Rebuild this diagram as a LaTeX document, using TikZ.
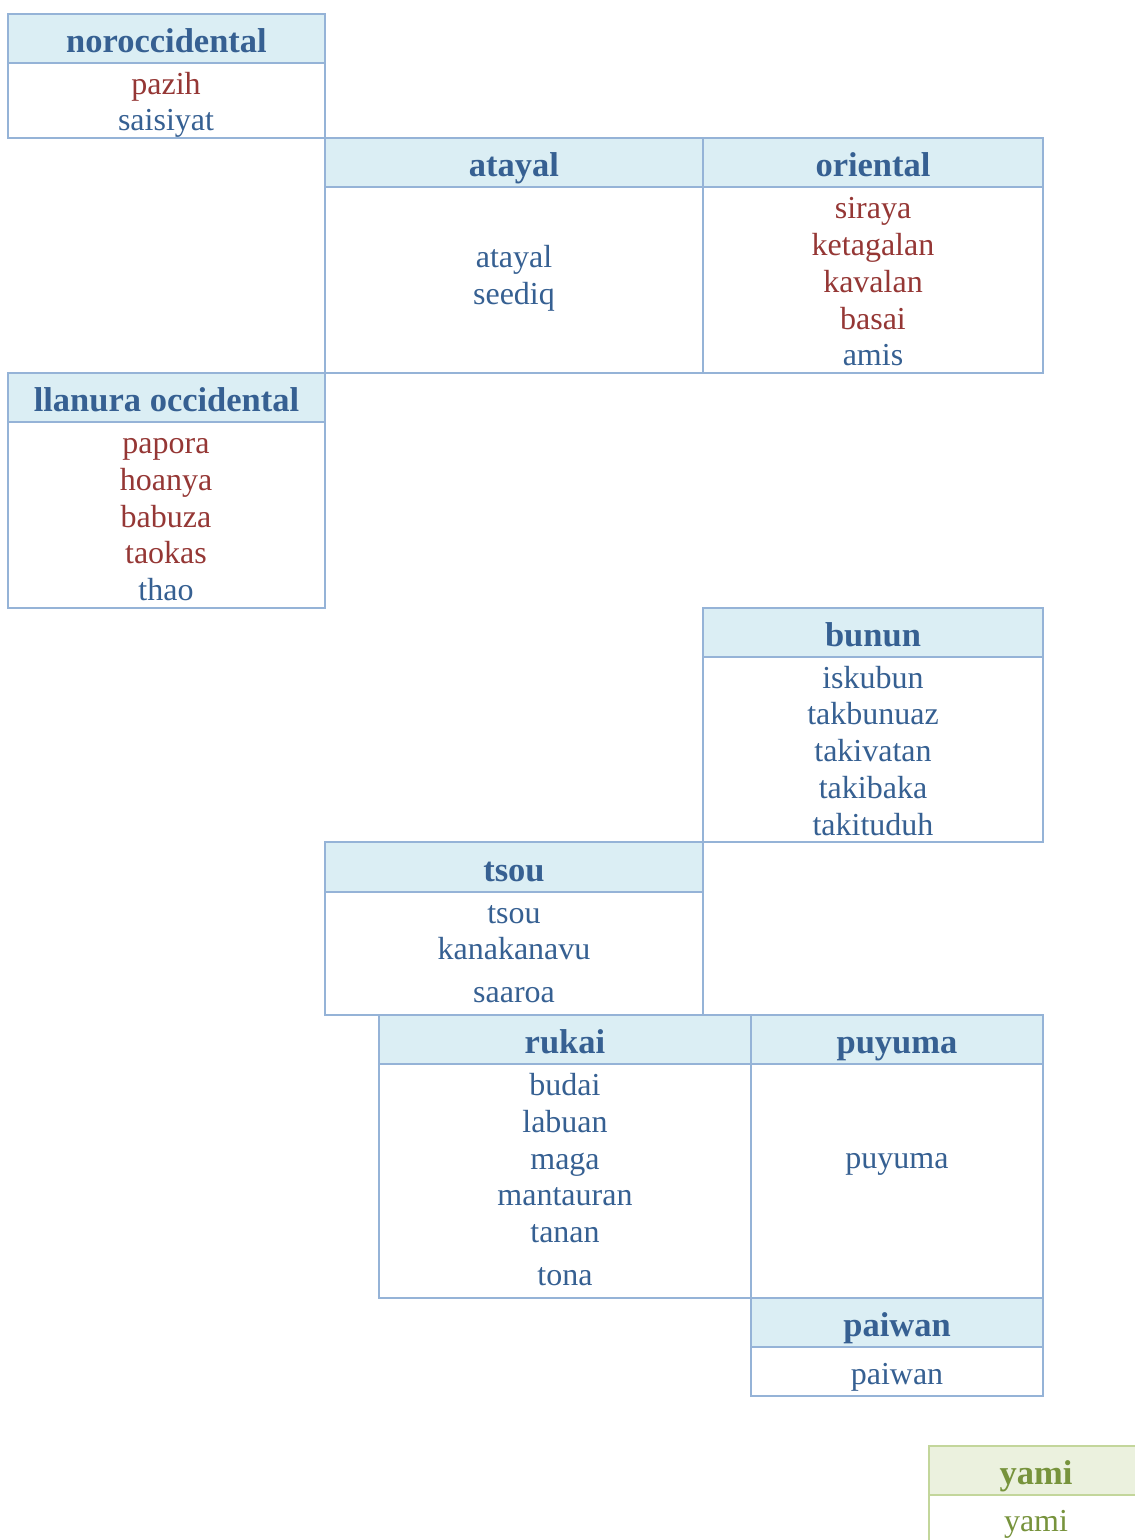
\documentclass[tikz,border=0pt]{standalone}
\usepackage{fontspec}
\setmainfont{Liberation Serif}
\definecolor{frameblue}{HTML}{95B3D7}
\definecolor{headblue}{HTML}{DBEEF4}
\definecolor{inkblue}{HTML}{366092}
\definecolor{inkred}{HTML}{953735}
\definecolor{framegreen}{HTML}{C3D69B}
\definecolor{headgreen}{HTML}{EBF1DE}
\definecolor{inkgreen}{HTML}{77933C}
\newcommand\headfont{\fontsize{34.5}{40}\selectfont\bfseries}
\newcommand\itemfont{\fontsize{32}{36}\selectfont}
\tikzset{
  hd/.style={draw=frameblue, fill=headblue, line width=2pt, anchor=north west,
    inner sep=0pt, outer sep=0pt, font=\headfont, text=inkblue, text height=29pt, text depth=1pt},
  bd/.style={draw=frameblue, fill=white, line width=2pt, anchor=north west, inner sep=0pt, outer sep=0pt},
  hdg/.style={hd, draw=framegreen, fill=headgreen, text=inkgreen},
  bdg/.style={bd, draw=framegreen},
  it/.style={font=\itemfont, text=inkblue, inner sep=0pt, text height=25pt, text depth=4pt},
  rd/.style={it, text=inkred},
  gr/.style={it, text=inkgreen},
}
\begin{document}
\begin{tikzpicture}[x=1pt, y=-1pt]
\useasboundingbox (0,0) rectangle (1135,1540);
\clip (0,0) rectangle (1135,1540);

% noroccidental
\node[bd, minimum width=317pt, minimum height=75pt] (b1) at (8,63) {};
\node[hd, minimum width=317pt, minimum height=49pt] (h1) at (8,14) {noroccidental};
\node[rd] (b1a) at (166,84) {pazih};
\node[it] (b1b) at (166,120) {saisiyat};

% atayal
\node[bd, minimum width=378pt, minimum height=186pt] (b2) at (325,187) {};
\node[hd, minimum width=378pt, minimum height=49pt] (h2) at (325,138) {atayal};
\node[it] (b2a) at (514,257) {atayal};
\node[it] (b2b) at (514,294) {seediq};

% oriental
\node[bd, minimum width=340pt, minimum height=186pt] (b3) at (703,187) {};
\node[hd, minimum width=340pt, minimum height=49pt] (h3) at (703,138) {oriental};
\node[rd] (b3a) at (873,208) {siraya};
\node[rd] (b3b) at (873,245) {ketagalan};
\node[rd] (b3c) at (873,282) {kavalan};
\node[rd] (b3d) at (873,319) {basai};
\node[it] (b3e) at (873,355) {amis};

% llanura occidental
\node[bd, minimum width=317pt, minimum height=186pt] (b4) at (8,422) {};
\node[hd, minimum width=317pt, minimum height=49pt] (h4) at (8,373) {llanura occidental};
\node[rd] (b4a) at (166,443) {papora};
\node[rd] (b4b) at (166,480) {hoanya};
\node[rd] (b4c) at (166,517) {babuza};
\node[rd] (b4d) at (166,553) {taokas};
\node[it] (b4e) at (166,590) {thao};

% bunun
\node[bd, minimum width=340pt, minimum height=185pt] (b5) at (703,657) {};
\node[hd, minimum width=340pt, minimum height=49pt] (h5) at (703,608) {bunun};
\node[it] (b5a) at (873,678) {iskubun};
\node[it] (b5b) at (873,714) {takbunuaz};
\node[it] (b5c) at (873,751) {takivatan};
\node[it] (b5d) at (873,788) {takibaka};
\node[it] (b5e) at (873,825) {takituduh};

% tsou
\node[bd, minimum width=378pt, minimum height=123pt] (b6) at (325,892) {};
\node[hd, minimum width=378pt, minimum height=50pt] (h6) at (325,842) {tsou};
\node[it] (b6a) at (514,913) {tsou};
\node[it] (b6b) at (514,949) {kanakanavu};
\node[it] (b6c) at (514,992) {saaroa};

% rukai
\node[bd, minimum width=372pt, minimum height=234pt] (b7) at (379,1064) {};
\node[hd, minimum width=372pt, minimum height=49pt] (h7) at (379,1015) {rukai};
\node[it] (b7a) at (565,1085) {budai};
\node[it] (b7b) at (565,1122) {labuan};
\node[it] (b7c) at (565,1159) {maga};
\node[it] (b7d) at (565,1195) {mantauran};
\node[it] (b7e) at (565,1232) {tanan};
\node[it] (b7f) at (565,1275) {tona};

% puyuma
\node[bd, minimum width=292pt, minimum height=234pt] (b8) at (751,1064) {};
\node[hd, minimum width=292pt, minimum height=49pt] (h8) at (751,1015) {puyuma};
\node[it] (b8a) at (897,1158) {puyuma};

% paiwan
\node[bd, minimum width=292pt, minimum height=49pt] (b9) at (751,1347) {};
\node[hd, minimum width=292pt, minimum height=49pt] (h9) at (751,1298) {paiwan};
\node[it] (b9a) at (897,1374) {paiwan};

% yami
\node[bdg, minimum width=220pt, minimum height=70pt] (b10) at (929,1495) {};
\node[hdg, minimum width=220pt, minimum height=49pt] (h10) at (929,1446) {};
\node[hdg, draw=none, fill=none, anchor=center, minimum height=49pt] (h10t) at (1036,1470.5) {yami};
\node[gr] (b10a) at (1036,1521) {yami};
\end{tikzpicture}
\end{document}
